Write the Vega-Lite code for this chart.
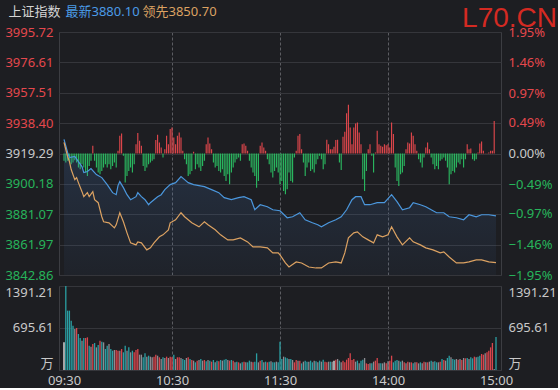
{
  "$schema": "https://vega.github.io/schema/vega-lite/v6.json",
  "background": "#1d1e22",
  "padding": {"left": 4, "top": 4, "right": 0, "bottom": 0},
  "spacing": 2,
  "config": {
    "font": "Noto Sans, Noto Sans CJK SC",
    "view": {"stroke": "#3c3d42", "strokeWidth": 1},
    "axis": {"labelFont": "Noto Sans, Noto Sans CJK SC", "labelFontSize": 13, "domain": false, "ticks": false, "titleFontWeight": "normal", "titleFont": "Noto Sans, Noto Sans CJK SC", "titleFontSize": 13}
  },
  "datasets": {
    "blue": [
      {"t":0,"p":3928.13},{"t":2,"p":3919.92},{"t":3,"p":3916.76},{"t":6,"p":3917.39},{"t":8,"p":3914.24},{"t":10,"p":3911.08},{"t":11,"p":3907.29},{"t":13,"p":3907.92},{"t":15,"p":3909.81},{"t":17,"p":3907.29},{"t":18,"p":3906.02},{"t":21,"p":3904.13},{"t":24,"p":3899.71},{"t":27,"p":3894.65},{"t":29,"p":3893.39},{"t":30,"p":3899.08},{"t":31,"p":3901.6},{"t":33,"p":3897.81},{"t":35,"p":3893.39},{"t":37,"p":3890.23},{"t":40,"p":3892.13},{"t":41,"p":3894.65},{"t":43,"p":3892.13},{"t":45,"p":3890.23},{"t":47,"p":3887.07},{"t":48,"p":3888.34},{"t":50,"p":3890.23},{"t":52,"p":3892.13},{"t":54,"p":3893.39},{"t":56,"p":3896.55},{"t":59,"p":3899.71},{"t":62,"p":3900.97},{"t":65,"p":3904.76},{"t":67,"p":3902.87},{"t":69,"p":3900.97},{"t":72,"p":3899.71},{"t":75,"p":3899.08},{"t":78,"p":3898.44},{"t":82,"p":3896.55},{"t":86,"p":3894.65},{"t":89,"p":3891.5},{"t":93,"p":3890.23},{"t":97,"p":3891.5},{"t":100,"p":3892.13},{"t":104,"p":3890.23},{"t":106,"p":3883.91},{"t":109,"p":3887.07},{"t":113,"p":3885.81},{"t":116,"p":3883.91},{"t":120,"p":3883.28},{"t":124,"p":3878.86},{"t":127,"p":3879.49},{"t":131,"p":3882.02},{"t":134,"p":3877.6},{"t":138,"p":3875.7},{"t":141,"p":3874.44},{"t":143,"p":3873.17},{"t":147,"p":3875.7},{"t":151,"p":3877.6},{"t":154,"p":3879.49},{"t":157,"p":3883.91},{"t":160,"p":3890.23},{"t":162,"p":3892.13},{"t":165,"p":3892.13},{"t":167,"p":3887.07},{"t":170,"p":3887.07},{"t":174,"p":3888.34},{"t":178,"p":3888.34},{"t":182,"p":3893.39},{"t":185,"p":3888.97},{"t":188,"p":3883.91},{"t":192,"p":3885.18},{"t":194,"p":3888.34},{"t":198,"p":3887.07},{"t":201,"p":3885.81},{"t":204,"p":3883.91},{"t":207,"p":3882.02},{"t":211,"p":3882.02},{"t":214,"p":3879.49},{"t":218,"p":3878.86},{"t":222,"p":3877.6},{"t":225,"p":3880.76},{"t":229,"p":3879.49},{"t":232,"p":3880.76},{"t":236,"p":3880.76},{"t":240,"p":3880.1}
    ],
    "orange": [
      {"t":0,"p":3926.24},{"t":2,"p":3917.39},{"t":3,"p":3914.24},{"t":4,"p":3909.18},{"t":6,"p":3902.87},{"t":7,"p":3904.13},{"t":8,"p":3900.97},{"t":10,"p":3895.29},{"t":11,"p":3892.13},{"t":13,"p":3894.65},{"t":14,"p":3892.13},{"t":16,"p":3895.29},{"t":17,"p":3890.23},{"t":19,"p":3888.34},{"t":21,"p":3879.49},{"t":22,"p":3876.33},{"t":25,"p":3875.7},{"t":28,"p":3872.54},{"t":29,"p":3874.44},{"t":31,"p":3882.02},{"t":33,"p":3876.33},{"t":35,"p":3869.38},{"t":37,"p":3863.07},{"t":40,"p":3861.8},{"t":41,"p":3863.7},{"t":43,"p":3863.07},{"t":46,"p":3858.65},{"t":48,"p":3859.91},{"t":50,"p":3863.07},{"t":53,"p":3866.86},{"t":55,"p":3868.12},{"t":58,"p":3871.28},{"t":59,"p":3875.7},{"t":62,"p":3877.6},{"t":65,"p":3882.02},{"t":67,"p":3879.49},{"t":71,"p":3875.7},{"t":75,"p":3873.17},{"t":78,"p":3876.33},{"t":80,"p":3874.44},{"t":84,"p":3871.28},{"t":87,"p":3868.12},{"t":91,"p":3864.96},{"t":94,"p":3864.96},{"t":98,"p":3866.22},{"t":102,"p":3863.7},{"t":105,"p":3860.54},{"t":109,"p":3860.54},{"t":113,"p":3859.91},{"t":116,"p":3856.75},{"t":119,"p":3856.75},{"t":120,"p":3855.49},{"t":123,"p":3850.44},{"t":125,"p":3847.91},{"t":129,"p":3851.07},{"t":132,"p":3850.44},{"t":136,"p":3847.91},{"t":140,"p":3847.28},{"t":143,"p":3847.28},{"t":147,"p":3850.44},{"t":151,"p":3851.07},{"t":154,"p":3850.44},{"t":156,"p":3856.75},{"t":158,"p":3866.22},{"t":161,"p":3869.38},{"t":163,"p":3870.01},{"t":166,"p":3866.86},{"t":169,"p":3864.96},{"t":172,"p":3863.07},{"t":174,"p":3868.12},{"t":177,"p":3866.86},{"t":180,"p":3868.12},{"t":182,"p":3873.17},{"t":185,"p":3866.86},{"t":188,"p":3861.8},{"t":192,"p":3866.22},{"t":194,"p":3863.7},{"t":198,"p":3861.8},{"t":201,"p":3859.91},{"t":205,"p":3858.65},{"t":209,"p":3856.75},{"t":211,"p":3857.38},{"t":214,"p":3854.23},{"t":218,"p":3850.44},{"t":222,"p":3850.44},{"t":225,"p":3851.07},{"t":229,"p":3852.33},{"t":232,"p":3852.33},{"t":236,"p":3851.07},{"t":240,"p":3850.7}
    ],
    "ind": [
      {"t":0,"d":-0.118},{"t":1,"d":-0.145},{"t":2,"d":-0.118},{"t":3,"d":-0.118},{"t":4,"d":-0.172},{"t":5,"d":-0.145},{"t":6,"d":-0.107},{"t":7,"d":-0.145},{"t":8,"d":-0.226},{"t":9,"d":-0.252},{"t":10,"d":-0.172},{"t":11,"d":-0.226},{"t":12,"d":-0.306},{"t":13,"d":-0.36},{"t":14,"d":-0.199},{"t":15,"d":-0.118},{"t":16,"d":0.124},{"t":17,"d":-0.118},{"t":18,"d":-0.226},{"t":19,"d":-0.306},{"t":20,"d":-0.333},{"t":21,"d":-0.279},{"t":22,"d":-0.226},{"t":23,"d":-0.172},{"t":24,"d":-0.226},{"t":25,"d":-0.172},{"t":26,"d":-0.252},{"t":27,"d":-0.199},{"t":28,"d":-0.145},{"t":29,"d":-0.226},{"t":30,"d":0.043},{"t":31,"d":0.285},{"t":32,"d":0.322},{"t":33,"d":-0.038},{"t":34,"d":-0.467},{"t":35,"d":-0.36},{"t":36,"d":-0.279},{"t":37,"d":-0.226},{"t":38,"d":-0.306},{"t":39,"d":-0.172},{"t":40,"d":0.15},{"t":41,"d":0.328},{"t":42,"d":0.204},{"t":43,"d":0.124},{"t":44,"d":-0.199},{"t":45,"d":-0.279},{"t":46,"d":-0.226},{"t":47,"d":-0.172},{"t":48,"d":-0.145},{"t":49,"d":-0.118},{"t":50,"d":-0.091},{"t":51,"d":0.215},{"t":52,"d":0.301},{"t":53,"d":0.177},{"t":54,"d":0.097},{"t":55,"d":-0.064},{"t":56,"d":0.07},{"t":57,"d":0.285},{"t":58,"d":0.15},{"t":59,"d":0.392},{"t":60,"d":0.419},{"t":61,"d":0.258},{"t":62,"d":0.15},{"t":63,"d":0.285},{"t":64,"d":0.338},{"t":65,"d":0.258},{"t":66,"d":0.043},{"t":67,"d":-0.091},{"t":68,"d":-0.172},{"t":69,"d":-0.36},{"t":70,"d":-0.333},{"t":71,"d":-0.279},{"t":72,"d":0.027},{"t":73,"d":-0.252},{"t":74,"d":-0.172},{"t":75,"d":-0.226},{"t":76,"d":-0.279},{"t":77,"d":-0.199},{"t":78,"d":-0.118},{"t":79,"d":0.15},{"t":80,"d":0.258},{"t":81,"d":0.161},{"t":82,"d":0.07},{"t":83,"d":-0.145},{"t":84,"d":-0.226},{"t":85,"d":-0.199},{"t":86,"d":-0.279},{"t":87,"d":-0.306},{"t":88,"d":-0.252},{"t":89,"d":-0.36},{"t":90,"d":-0.44},{"t":91,"d":-0.333},{"t":92,"d":-0.494},{"t":93,"d":-0.306},{"t":94,"d":-0.226},{"t":95,"d":-0.145},{"t":96,"d":-0.091},{"t":97,"d":-0.064},{"t":98,"d":-0.118},{"t":99,"d":0.15},{"t":100,"d":0.161},{"t":101,"d":0.124},{"t":102,"d":0.043},{"t":103,"d":-0.118},{"t":104,"d":-0.226},{"t":105,"d":-0.306},{"t":106,"d":-0.36},{"t":107,"d":-0.548},{"t":108,"d":-0.44},{"t":109,"d":0.124},{"t":110,"d":0.177},{"t":111,"d":0.097},{"t":112,"d":0.043},{"t":113,"d":-0.091},{"t":114,"d":-0.172},{"t":115,"d":-0.306},{"t":116,"d":-0.387},{"t":117,"d":-0.279},{"t":118,"d":-0.226},{"t":119,"d":-0.306},
      {"t":120,"d":-0.494},{"t":121,"d":-0.44},{"t":122,"d":-0.601},{"t":123,"d":-0.655},{"t":124,"d":-0.575},{"t":125,"d":-0.306},{"t":126,"d":-0.44},{"t":127,"d":-0.467},{"t":128,"d":-0.064},{"t":129,"d":0.043},{"t":130,"d":0.285},{"t":131,"d":0.311},{"t":132,"d":0.07},{"t":133,"d":-0.145},{"t":134,"d":-0.36},{"t":135,"d":-0.226},{"t":136,"d":-0.145},{"t":137,"d":-0.279},{"t":138,"d":-0.252},{"t":139,"d":-0.306},{"t":140,"d":-0.172},{"t":141,"d":-0.091},{"t":142,"d":-0.038},{"t":143,"d":-0.091},{"t":144,"d":-0.252},{"t":145,"d":-0.172},{"t":146,"d":0.22},{"t":147,"d":0.15},{"t":148,"d":0.07},{"t":149,"d":0.07},{"t":150,"d":0.107},{"t":151,"d":0.215},{"t":152,"d":0.22},{"t":153,"d":-0.145},{"t":154,"d":-0.263},{"t":155,"d":0.269},{"t":156,"d":0.349},{"t":157,"d":0.644},{"t":158,"d":0.784},{"t":159,"d":0.419},{"t":160,"d":0.15},{"t":161,"d":0.419},{"t":162,"d":0.483},{"t":163,"d":0.499},{"t":164,"d":0.338},{"t":165,"d":0.15},{"t":166,"d":-0.413},{"t":167,"d":-0.601},{"t":168,"d":-0.279},{"t":169,"d":0.07},{"t":170,"d":0.15},{"t":171,"d":-0.038},{"t":172,"d":-0.306},{"t":173,"d":0.016},{"t":174,"d":0.365},{"t":175,"d":0.15},{"t":176,"d":0.124},{"t":177,"d":0.107},{"t":178,"d":0.15},{"t":179,"d":0.134},{"t":180,"d":0.15},{"t":181,"d":0.097},{"t":182,"d":0.499},{"t":183,"d":0.311},{"t":184,"d":-0.226},{"t":185,"d":-0.44},{"t":186,"d":-0.521},{"t":187,"d":-0.333},{"t":188,"d":-0.306},{"t":189,"d":-0.199},{"t":190,"d":0.07},{"t":191,"d":0.177},{"t":192,"d":0.161},{"t":193,"d":0.338},{"t":194,"d":0.285},{"t":195,"d":0.15},{"t":196,"d":0.043},{"t":197,"d":-0.091},{"t":198,"d":-0.145},{"t":199,"d":-0.226},{"t":200,"d":-0.064},{"t":201,"d":0.097},{"t":202,"d":0.177},{"t":203,"d":0.07},{"t":204,"d":-0.064},{"t":205,"d":-0.172},{"t":206,"d":-0.252},{"t":207,"d":-0.199},{"t":208,"d":-0.252},{"t":209,"d":-0.118},{"t":210,"d":-0.091},{"t":211,"d":-0.064},{"t":212,"d":-0.118},{"t":213,"d":-0.226},{"t":214,"d":-0.494},{"t":215,"d":-0.333},{"t":216,"d":-0.279},{"t":217,"d":-0.306},{"t":218,"d":-0.226},{"t":219,"d":-0.145},{"t":220,"d":-0.172},{"t":221,"d":-0.091},{"t":222,"d":-0.226},{"t":223,"d":-0.091},{"t":224,"d":0.15},{"t":225,"d":0.07},{"t":226,"d":0.081},{"t":227,"d":-0.091},{"t":228,"d":-0.118},{"t":229,"d":-0.091},{"t":230,"d":0.016},{"t":231,"d":0.161},{"t":232,"d":0.193},{"t":233,"d":0.043},{"t":234,"d":0.005},{"t":235,"d":0.005},{"t":236,"d":0.016},{"t":237,"d":0.043},{"t":238,"d":0.043},{"t":239,"d":0.52}
    ],
    "vol": [
      {"t":0,"v":458,"c":"w"},{"t":1,"v":1391,"c":"g"},{"t":2,"v":983,"c":"g"},{"t":3,"v":983,"c":"g"},{"t":4,"v":817,"c":"g"},{"t":5,"v":734,"c":"g"},{"t":6,"v":679,"c":"n"},{"t":7,"v":696,"c":"r"},{"t":8,"v":596,"c":"g"},{"t":9,"v":530,"c":"g"},{"t":10,"v":486,"c":"n"},{"t":11,"v":530,"c":"g"},{"t":12,"v":530,"c":"r"},{"t":13,"v":541,"c":"r"},{"t":14,"v":403,"c":"g"},{"t":15,"v":386,"c":"n"},{"t":16,"v":431,"c":"r"},{"t":17,"v":447,"c":"g"},{"t":18,"v":375,"c":"n"},{"t":19,"v":414,"c":"g"},{"t":20,"v":486,"c":"r"},{"t":21,"v":469,"c":"g"},{"t":22,"v":458,"c":"n"},{"t":23,"v":348,"c":"g"},{"t":24,"v":403,"c":"g"},{"t":25,"v":431,"c":"n"},{"t":26,"v":348,"c":"g"},{"t":27,"v":320,"c":"g"},{"t":28,"v":331,"c":"n"},{"t":29,"v":331,"c":"r"},{"t":30,"v":320,"c":"r"},{"t":31,"v":320,"c":"n"},{"t":32,"v":348,"c":"r"},{"t":33,"v":293,"c":"g"},{"t":34,"v":403,"c":"g"},{"t":35,"v":320,"c":"n"},{"t":36,"v":375,"c":"g"},{"t":37,"v":293,"c":"n"},{"t":38,"v":320,"c":"g"},{"t":39,"v":293,"c":"r"},{"t":40,"v":331,"c":"r"},{"t":41,"v":348,"c":"r"},{"t":42,"v":254,"c":"n"},{"t":43,"v":254,"c":"n"},{"t":44,"v":210,"c":"g"},{"t":45,"v":276,"c":"g"},{"t":46,"v":221,"c":"n"},{"t":47,"v":237,"c":"g"},{"t":48,"v":221,"c":"n"},{"t":49,"v":210,"c":"n"},{"t":50,"v":221,"c":"r"},{"t":51,"v":254,"c":"r"},{"t":52,"v":237,"c":"n"},{"t":53,"v":210,"c":"r"},{"t":54,"v":182,"c":"n"},{"t":55,"v":210,"c":"g"},{"t":56,"v":199,"c":"n"},{"t":57,"v":221,"c":"r"},{"t":58,"v":199,"c":"n"},{"t":59,"v":221,"c":"r"},{"t":60,"v":210,"c":"r"},{"t":61,"v":254,"c":"g"},{"t":62,"v":182,"c":"n"},{"t":63,"v":210,"c":"r"},{"t":64,"v":210,"c":"r"},{"t":65,"v":199,"c":"n"},{"t":66,"v":182,"c":"g"},{"t":67,"v":166,"c":"g"},{"t":68,"v":199,"c":"n"},{"t":69,"v":210,"c":"r"},{"t":70,"v":182,"c":"g"},{"t":71,"v":166,"c":"r"},{"t":72,"v":155,"c":"n"},{"t":73,"v":127,"c":"g"},{"t":74,"v":155,"c":"r"},{"t":75,"v":166,"c":"n"},{"t":76,"v":182,"c":"g"},{"t":77,"v":155,"c":"n"},{"t":78,"v":166,"c":"r"},{"t":79,"v":144,"c":"g"},{"t":80,"v":166,"c":"n"},{"t":81,"v":155,"c":"g"},{"t":82,"v":138,"c":"r"},{"t":83,"v":166,"c":"g"},{"t":84,"v":127,"c":"n"},{"t":85,"v":155,"c":"g"},{"t":86,"v":144,"c":"r"},{"t":87,"v":166,"c":"g"},{"t":88,"v":155,"c":"n"},{"t":89,"v":171,"c":"g"},{"t":90,"v":182,"c":"g"},{"t":91,"v":166,"c":"n"},{"t":92,"v":155,"c":"r"},{"t":93,"v":166,"c":"g"},{"t":94,"v":155,"c":"r"},{"t":95,"v":127,"c":"n"},{"t":96,"v":138,"c":"g"},{"t":97,"v":127,"c":"r"},{"t":98,"v":110,"c":"n"},{"t":99,"v":127,"c":"g"},{"t":100,"v":138,"c":"r"},{"t":101,"v":127,"c":"n"},{"t":102,"v":127,"c":"g"},{"t":103,"v":155,"c":"g"},{"t":104,"v":138,"c":"n"},{"t":105,"v":127,"c":"r"},{"t":106,"v":138,"c":"g"},{"t":107,"v":276,"c":"g"},{"t":108,"v":127,"c":"n"},{"t":109,"v":155,"c":"r"},{"t":110,"v":166,"c":"g"},{"t":111,"v":127,"c":"n"},{"t":112,"v":138,"c":"g"},{"t":113,"v":127,"c":"r"},{"t":114,"v":138,"c":"g"},{"t":115,"v":144,"c":"n"},{"t":116,"v":127,"c":"g"},{"t":117,"v":127,"c":"g"},{"t":118,"v":138,"c":"n"},{"t":119,"v":127,"c":"g"},
      {"t":120,"v":469,"c":"g"},{"t":121,"v":182,"c":"g"},{"t":122,"v":221,"c":"n"},{"t":123,"v":210,"c":"g"},{"t":124,"v":193,"c":"g"},{"t":125,"v":182,"c":"n"},{"t":126,"v":182,"c":"g"},{"t":127,"v":166,"c":"n"},{"t":128,"v":127,"c":"r"},{"t":129,"v":166,"c":"r"},{"t":130,"v":155,"c":"n"},{"t":131,"v":155,"c":"r"},{"t":132,"v":110,"c":"g"},{"t":133,"v":138,"c":"n"},{"t":134,"v":155,"c":"g"},{"t":135,"v":138,"c":"g"},{"t":136,"v":138,"c":"n"},{"t":137,"v":155,"c":"g"},{"t":138,"v":127,"c":"g"},{"t":139,"v":155,"c":"n"},{"t":140,"v":144,"c":"g"},{"t":141,"v":127,"c":"n"},{"t":142,"v":155,"c":"g"},{"t":143,"v":138,"c":"n"},{"t":144,"v":171,"c":"g"},{"t":145,"v":138,"c":"r"},{"t":146,"v":127,"c":"r"},{"t":147,"v":138,"c":"n"},{"t":148,"v":138,"c":"g"},{"t":149,"v":138,"c":"n"},{"t":150,"v":155,"c":"w"},{"t":151,"v":171,"c":"r"},{"t":152,"v":182,"c":"n"},{"t":153,"v":155,"c":"g"},{"t":154,"v":127,"c":"n"},{"t":155,"v":155,"c":"r"},{"t":156,"v":127,"c":"r"},{"t":157,"v":171,"c":"r"},{"t":158,"v":199,"c":"r"},{"t":159,"v":276,"c":"r"},{"t":160,"v":166,"c":"r"},{"t":161,"v":182,"c":"r"},{"t":162,"v":138,"c":"n"},{"t":163,"v":155,"c":"g"},{"t":164,"v":110,"c":"n"},{"t":165,"v":155,"c":"g"},{"t":166,"v":171,"c":"g"},{"t":167,"v":199,"c":"n"},{"t":168,"v":110,"c":"r"},{"t":169,"v":99,"c":"r"},{"t":170,"v":110,"c":"n"},{"t":171,"v":110,"c":"g"},{"t":172,"v":138,"c":"n"},{"t":173,"v":155,"c":"r"},{"t":174,"v":199,"c":"r"},{"t":175,"v":110,"c":"n"},{"t":176,"v":110,"c":"g"},{"t":177,"v":110,"c":"n"},{"t":178,"v":127,"c":"n"},{"t":179,"v":110,"c":"r"},{"t":180,"v":144,"c":"n"},{"t":181,"v":155,"c":"r"},{"t":182,"v":237,"c":"r"},{"t":183,"v":127,"c":"g"},{"t":184,"v":155,"c":"g"},{"t":185,"v":166,"c":"g"},{"t":186,"v":155,"c":"n"},{"t":187,"v":138,"c":"g"},{"t":188,"v":155,"c":"n"},{"t":189,"v":127,"c":"r"},{"t":190,"v":110,"c":"n"},{"t":191,"v":138,"c":"r"},{"t":192,"v":127,"c":"n"},{"t":193,"v":127,"c":"r"},{"t":194,"v":110,"c":"g"},{"t":195,"v":127,"c":"n"},{"t":196,"v":127,"c":"r"},{"t":197,"v":110,"c":"n"},{"t":198,"v":127,"c":"g"},{"t":199,"v":110,"c":"n"},{"t":200,"v":138,"c":"r"},{"t":201,"v":127,"c":"n"},{"t":202,"v":127,"c":"r"},{"t":203,"v":138,"c":"n"},{"t":204,"v":155,"c":"g"},{"t":205,"v":138,"c":"n"},{"t":206,"v":144,"c":"g"},{"t":207,"v":127,"c":"g"},{"t":208,"v":127,"c":"n"},{"t":209,"v":138,"c":"r"},{"t":210,"v":182,"c":"g"},{"t":211,"v":166,"c":"r"},{"t":212,"v":155,"c":"n"},{"t":213,"v":199,"c":"g"},{"t":214,"v":237,"c":"g"},{"t":215,"v":210,"c":"n"},{"t":216,"v":182,"c":"g"},{"t":217,"v":171,"c":"g"},{"t":218,"v":182,"c":"n"},{"t":219,"v":171,"c":"r"},{"t":220,"v":182,"c":"n"},{"t":221,"v":166,"c":"r"},{"t":222,"v":199,"c":"n"},{"t":223,"v":193,"c":"r"},{"t":224,"v":199,"c":"g"},{"t":225,"v":182,"c":"n"},{"t":226,"v":210,"c":"g"},{"t":227,"v":193,"c":"g"},{"t":228,"v":221,"c":"r"},{"t":229,"v":210,"c":"n"},{"t":230,"v":221,"c":"g"},{"t":231,"v":237,"c":"g"},{"t":232,"v":265,"c":"r"},{"t":233,"v":254,"c":"r"},{"t":234,"v":276,"c":"n"},{"t":235,"v":293,"c":"r"},{"t":236,"v":320,"c":"r"},{"t":237,"v":375,"c":"r"},{"t":238,"v":447,"c":"r"},{"t":239,"v":17,"c":"n"},{"t":240,"v":546,"c":"g"}
    ]
  },
  "vconcat": [
    {
      "width": 442,
      "height": 243,
      "title": {"text": "L70.CN", "anchor": "end", "frame": "group", "font": "Liberation Sans", "fontSize": 28, "fontWeight": "normal", "color": "#d42a22", "dx": 56, "dy": 28, "offset": 0},
      "layer": [
        {
          "data": {"name": "ind"},
          "mark": {"type": "bar", "size": 1.1},
          "encoding": {
            "x": {"field": "t", "type": "quantitative", "scale": {"domain": [0, 240], "nice": false, "zero": false},
              "axis": {"values": [60, 120, 180], "grid": true, "gridDash": [3, 2], "gridColor": "#5c5d62", "labels": false, "title": "领先3850.70", "titleColor": "#dca262", "titleX": 83, "titleY": -264, "titleAlign": "left", "titleBaseline": "middle", "titleAngle": 0}},
            "y": {"field": "d", "type": "quantitative", "scale": {"domain": [-1.95, 1.95], "nice": false, "zero": false},
              "axis": {"orient": "right", "values": [-1.95, -1.46, -0.97, -0.49, 0, 0.49, 0.97, 1.46, 1.95], "format": ".2f", "labelExpr": "datum.label + '%'", "grid": false, "labelPadding": 7,
                "labelColor": {"condition": [{"test": "datum.value > 0.001", "value": "#e5484d"}, {"test": "datum.value < -0.001", "value": "#27b45b"}], "value": "#c9c9c9"},
                "title": "最新3880.10", "titleColor": "#4b9be6", "titleX": -436, "titleY": -20.5, "titleAlign": "left", "titleBaseline": "middle", "titleAngle": 0}},
            "y2": {"datum": 0},
            "color": {"condition": {"test": "datum.d >= 0", "value": "#e5484d"}, "value": "#2bbd62"}
          }
        },
        {
          "encoding": {
            "x": {"field": "t", "type": "quantitative"},
            "y": {"field": "p", "type": "quantitative", "scale": {"domain": [3842.86, 3995.72], "nice": false, "zero": false},
              "axis": {"orient": "left", "values": [3842.86, 3861.97, 3881.07, 3900.18, 3919.29, 3938.4, 3957.51, 3976.61, 3995.72], "format": ".2f", "grid": true, "gridColor": "#35363b", "labelPadding": 6,
                "labelColor": {"condition": [{"test": "datum.value > 3919.3", "value": "#e5484d"}, {"test": "datum.value < 3919.2", "value": "#27b45b"}], "value": "#c9c9c9"},
                "title": "上证指数", "titleColor": "#d4d4d4", "titleX": -51, "titleY": -20.5, "titleAlign": "left", "titleBaseline": "middle", "titleAngle": 0}}
          },
          "layer": [
            {
              "data": {"name": "blue"},
              "mark": {"type": "area", "color": {"gradient": "linear", "x1": 0, "y1": 0, "x2": 0, "y2": 1, "stops": [{"offset": 0, "color": "rgba(70,120,190,0.22)"}, {"offset": 1, "color": "rgba(70,120,190,0.05)"}]}},
              "encoding": {"y2": {"datum": 3842.86}}
            },
            {
              "data": {"name": "blue"},
              "mark": {"type": "line", "color": "#4b97dd", "strokeWidth": 1.2},
              "encoding": {}
            },
            {
              "data": {"name": "orange"},
              "mark": {"type": "line", "color": "#dca262", "strokeWidth": 1.2},
              "encoding": {}
            }
          ]
        }
      ],
      "resolve": {"scale": {"y": "independent"}}
    },
    {
      "width": 442,
      "height": 84,
      "data": {"name": "vol"},
      "layer": [
        {
          "mark": {"type": "bar", "size": 1.3},
          "encoding": {
            "x": {"field": "t", "type": "quantitative", "scale": {"domain": [0, 240], "nice": false, "zero": false},
              "axis": {"values": [0, 60, 120, 180, 240], "labelExpr": "datum.value == 0 ? '09:30' : datum.value == 60 ? '10:30' : datum.value == 120 ? '11:30' : datum.value == 180 ? '14:00' : '15:00'", "labelColor": "#c9c9c9", "labelPadding": 4, "labelFlush": false, "grid": true, "gridDash": [3, 2], "gridColor": "#5c5d62", "gridOpacity": {"condition": {"test": "datum.value == 0 || datum.value == 240", "value": 0}, "value": 1}, "title": null}},
            "y": {"field": "v", "type": "quantitative", "scale": {"domain": [0, 1391.21], "nice": false},
              "axis": {"orient": "left", "values": [0, 695.61, 1391.21], "format": ".2f", "labelExpr": "datum.value == 0 ? '万' : datum.label", "labelFlush": true, "labelColor": "#c9c9c9", "labelPadding": 6, "grid": true, "gridColor": "#35363b", "title": null}},
            "color": {"field": "c", "type": "nominal", "scale": {"domain": ["r", "g", "n", "w"], "range": ["#d9454c", "#2a9fa3", "#8d8b91", "#f0f0f0"]}, "legend": null}
          }
        },
        {
          "mark": {"type": "bar", "size": 1.3, "opacity": 0},
          "encoding": {
            "x": {"field": "t", "type": "quantitative"},
            "y": {"field": "v", "type": "quantitative",
              "axis": {"orient": "right", "values": [0, 695.61, 1391.21], "format": ".2f", "labelExpr": "datum.value == 0 ? '万' : datum.label", "labelFlush": true, "labelColor": "#c9c9c9", "labelPadding": 7, "grid": false, "title": null}}
          }
        }
      ],
      "resolve": {"axis": {"y": "independent"}}
    }
  ]
}
